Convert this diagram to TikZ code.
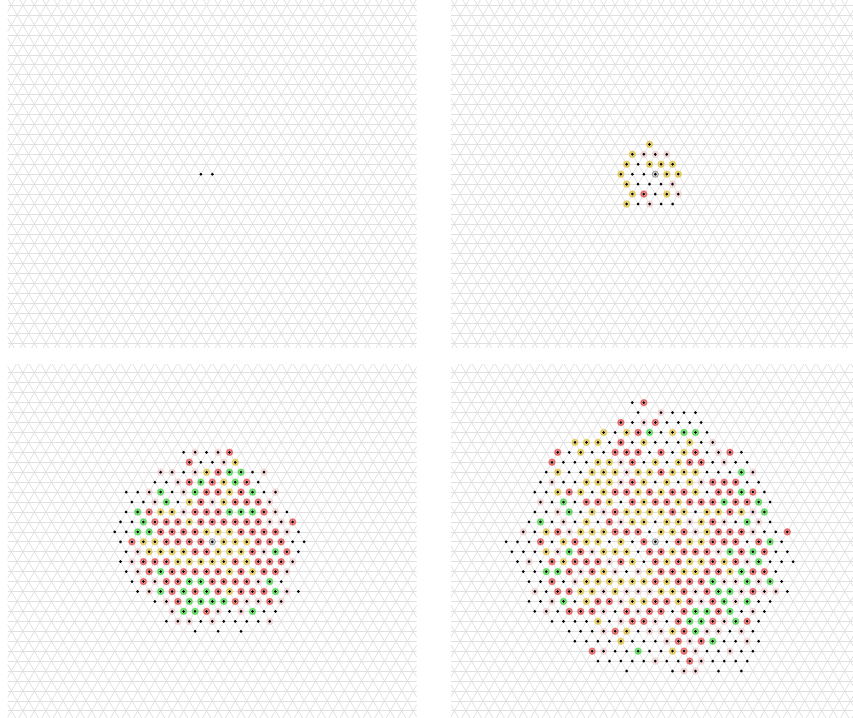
\documentclass[tikz,border=0pt]{standalone}

\definecolor{gridline}{HTML}{E0E0E0}
\definecolor{haloR}{HTML}{E66666}
\definecolor{haloY}{HTML}{E3C95A}
\definecolor{haloG}{HTML}{5CDA5C}
\definecolor{haloP}{HTML}{F0D6D6}

% coloured ring round a site
\newcommand{\sitehalo}[1]{
  \fill[#1!50] (0,0) circle (3.9pt);
  \draw[#1, line width=1.2pt] (0,0) circle (2.7pt);
}

% one site: k plain, p pale, r/y/g ring, c centre, e empty
\newcommand{\sitedraw}[1]{
  \if#1r\sitehalo{haloR}\fi
  \if#1y\sitehalo{haloY}\fi
  \if#1g\sitehalo{haloG}\fi
  \if#1p\fill[haloP] (0,0) circle (3.7pt);\fi
  \if#1c\fill[gray!75] (0,0) circle (3.6pt);\fill[gray!35] (0,0) circle (2.5pt);\fi
  \if#1e\else\fill[black] (0,0) circle (1.5pt);\fi
}

% triangular lattice clipped to a panel: x1,y1,x2,y2,cx,cy
\newcommand{\trigrid}[6]{
  \begin{scope}
    \clip (#1,#2) rectangle (#3,#4);
    \foreach \k in {-20,...,20}
      \draw[latline] (#1,{#6+\k*\rh}) -- (#3,{#6+\k*\rh});
    \foreach \n in {-30,...,30} {
      \draw[latline] ({#5+(\n-10)*\la},{#6-20*\rh}) -- ({#5+(\n+10)*\la},{#6+20*\rh});
      \draw[latline] ({#5+(\n+10)*\la},{#6-20*\rh}) -- ({#5+(\n-10)*\la},{#6+20*\rh});
    }
  \end{scope}
}

\begin{document}
\begin{tikzpicture}[x=1pt, y=-1pt,
    latline/.style={gridline, line width=0.7pt},
    pics/site/.style={code={\sitedraw{#1}}}]
  \def\la{11.48}
  \def\rh{9.942}

  \useasboundingbox (0,0) rectangle (853,717);

  % Lattice backgrounds
  \trigrid{7.5}{0}{416.5}{347}{212.3}{174.2}
  \trigrid{451}{0}{853}{347}{655.3}{174.2}
  \trigrid{7.5}{364}{416.5}{717}{212.3}{541.8}
  \trigrid{451}{364}{853}{717}{655.3}{541.8}

  % Step 1
  \foreach \j/\m/\s in {0/-2/{k,k}}
    \foreach \c [count=\n from 0] in \s
      \pic at ({212.3+(\m+2*\n)*\la/2},{174.2+\j*\rh}) {site=\c};

  % Step 2
  \foreach \j/\m/\s in {
      -3/-1/{y},
      -2/-4/{y,p,p,p},
      -1/-5/{y,k,y,y,y},
       0/-6/{y,k,k,c,y,y},
       1/-5/{y,k,k,k,p},
       2/-4/{y,r,k,y,p},
       3/-5/{y,k,p,k,k}}
    \foreach \c [count=\n from 0] in \s
      \pic at ({655.3+(\m+2*\n)*\la/2},{174.2+\j*\rh}) {site=\c};

  % Step 3
  \foreach \j/\m/\s in {
      -9/-5/{k,p,k,p,r},
      -8/-4/{r,k,k,p,y},
      -7/-9/{p,p,k,p,y,r,g,g,k,p},
      -6/-10/{k,k,p,r,g,r,y,g,r,k},
      -5/-15/{k,k,p,g,k,p,g,r,r,y,r,g,k,p},
      -4/-14/{k,k,p,g,k,y,r,p,y,r,r,r,p},
      -3/-15/{k,g,r,y,y,p,r,r,r,g,g,g,r,p,k},
      -2/-16/{k,k,g,r,r,r,y,r,r,r,r,r,r,p,p,r},
      -1/-17/{k,k,g,g,r,r,r,r,y,y,y,r,r,r,r,p,k},
       0/-16/{k,r,y,y,r,r,r,r,c,y,y,y,r,r,r,k,k},
       1/-15/{k,p,y,y,y,y,r,r,y,y,y,r,p,g,r,k},
       2/-16/{k,p,r,r,r,y,y,y,y,y,r,y,r,r,r,p},
       3/-15/{k,p,r,g,r,r,r,r,r,y,r,y,r,r,p},
       4/-14/{k,r,p,r,r,g,g,r,r,r,r,p,g,k},
       5/-13/{k,p,g,r,g,r,g,r,y,r,r,r,g,p,k},
       6/-10/{k,p,r,g,g,g,g,r,p,p,r,p},
       7/-7/{p,g,g,r,p,k,p,g,k,k},
       8/-8/{k,p,p,k,p,k,k,k,k,p},
       9/-3/{k,e,k,e,k}}
    \foreach \c [count=\n from 0] in \s
      \pic at ({212.3+(\m+2*\n)*\la/2},{541.8+\j*\rh}) {site=\c};

  % Step 4
  \foreach \j/\m/\s in {
      -14/-4/{k,r},
      -13/-3/{k,e,p,k,k,k},
      -12/-6/{r,k,p,r,k,k,k,k},
      -11/-9/{y,k,y,r,g,k,y,g,g,k},
      -10/-14/{y,y,y,k,r,k,y,k,k,k,y,k,p},
      -9/-17/{r,k,y,k,k,r,r,r,k,r,k,y,r,k,p,r,k},
      -8/-18/{r,k,k,k,y,y,p,r,k,y,k,y,r,r,k,p,k,k},
      -7/-19/{k,y,k,k,y,y,y,p,y,y,r,y,y,y,k,k,k,g,p},
      -6/-20/{k,p,k,k,y,y,y,p,r,y,k,y,k,y,p,r,r,r,k,k},
      -5/-21/{k,k,y,r,y,k,y,r,r,y,r,y,r,r,y,k,r,r,g,r,k},
      -4/-20/{p,k,g,k,r,r,y,k,r,y,r,r,y,r,r,r,g,r,r,g,k},
      -3/-21/{k,k,p,g,k,y,p,r,y,y,y,y,r,y,k,y,y,r,y,p,g},
      -2/-22/{k,g,k,p,k,y,k,r,p,y,y,k,y,y,p,y,r,p,k,g,p,k},
      -1/-23/{p,k,y,r,p,y,y,y,r,r,r,k,y,y,r,p,y,r,r,r,p,k,k,r},
       0/-26/{k,k,k,r,k,y,r,y,y,k,y,k,r,c,k,r,y,y,r,r,r,k,r,g,k},
       1/-25/{k,k,k,y,p,g,r,p,y,y,y,k,r,r,y,r,r,r,p,g,r,g,r,k,k},
       2/-24/{k,p,k,r,y,r,r,r,p,r,y,k,r,y,r,y,y,r,y,r,p,g,k,k,k},
       3/-23/{k,k,g,g,r,p,r,y,p,k,p,y,r,r,y,y,r,r,y,g,r,r,k},
       4/-22/{k,k,r,k,p,y,y,y,y,y,y,r,y,r,r,r,g,p,p,g,p,g,k},
       5/-21/{p,k,r,r,y,y,p,y,p,p,p,y,y,r,p,r,g,g,p,r,p,p,k},
       6/-22/{k,k,p,g,k,y,r,r,p,y,y,r,r,y,r,p,r,g,p,g,k,k},
       7/-21/{k,p,k,r,r,r,p,k,r,p,r,r,k,r,g,g,r,g,k,p,k},
       8/-18/{k,k,k,k,y,k,p,r,r,p,k,r,g,g,r,p,g,r,k},
       9/-15/{k,k,k,p,r,y,k,p,p,y,r,g,p,p,k,p,k},
      10/-14/{k,k,k,k,y,k,k,k,p,r,p,r,g,k,k,p,k},
      11/-11/{r,p,k,k,g,k,k,y,r,p,k,k,p,k,k},
      12/-10/{k,k,k,k,k,p,k,k,r,p,k,k,k,k},
      13/-5/{k,e,e,e,k,p,p,e,k,e,k}}
    \foreach \c [count=\n from 0] in \s
      \pic at ({655.3+(\m+2*\n)*\la/2},{541.8+\j*\rh}) {site=\c};
\end{tikzpicture}
\end{document}
